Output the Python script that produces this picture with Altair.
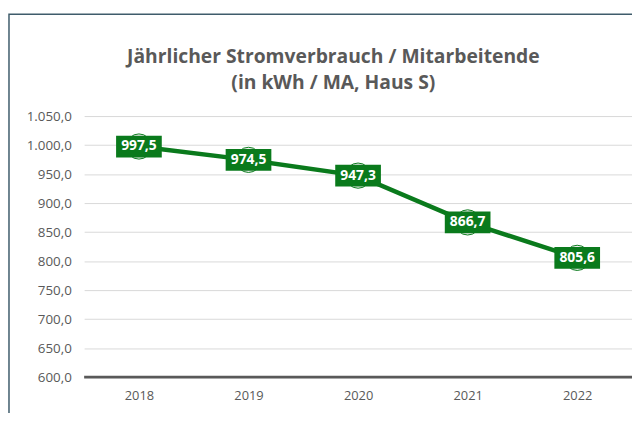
import altair as alt
import pandas as pd

years = ["2018", "2019", "2020", "2021", "2022"]
values = [997.5, 974.5, 947.3, 866.7, 805.6]
y_ticks = [600, 650, 700, 750, 800, 850, 900, 950, 1000, 1050]
title_lines = ["Jährlicher Stromverbrauch / Mitarbeitende", "(in kWh / MA, Haus S)"]

GREEN = "#0a7a1c"
GRAY = "#595959"
FONT = "Open Sans"

df = pd.DataFrame({"year": years, "value": values})

de_expr = "replace(replace(replace(format(datum.value, ',.1f'), ',', '#'), '.', ','), '#', '.')"

x = alt.X("year:O", title=None,
          axis=alt.Axis(labelAngle=0, ticks=False, domain=False, labelPadding=13,
                        labelFontSize=13, labelColor=GRAY, labelFont=FONT, grid=False))
y = alt.Y("value:Q", title=None,
          scale=alt.Scale(domain=[600, 1050], nice=False, zero=False),
          axis=alt.Axis(values=y_ticks, labelExpr=de_expr, ticks=False, domain=False,
                        labelPadding=13, labelFontSize=13.5, labelColor=GRAY, labelFont=FONT,
                        gridColor="#d9d9d9", gridWidth=1, labelOverlap=False))

base = alt.Chart(df).encode(x=x, y=y)

line = base.mark_line(color=GREEN, strokeWidth=4.5)
circles = base.mark_point(shape="circle", size=650, filled=True, fill="#eeeeee",
                          stroke=GREEN, strokeWidth=1, opacity=1)
boxes = base.mark_point(shape="M-2.1,-1H2.1V1H-2.1Z", size=484, filled=True,
                        fill=GREEN, strokeWidth=0, opacity=1)
labels = base.transform_calculate(
    lab="replace(format(datum.value, '.1f'), '.', ',')"
).mark_text(color="white", fontWeight="bold", fontSize=14, font=FONT,
            baseline="middle", align="center").encode(text="lab:N")

baseline = alt.Chart(pd.DataFrame({"value": [600]})).mark_rule(
    color=GRAY, strokeWidth=3
).encode(y=y, x=alt.value(0), x2=alt.value(554))

border = alt.Chart(pd.DataFrame({"a": [0]})).mark_rect(
    fill=None, stroke="#3f5c6b", strokeWidth=1.5
).encode(x=alt.value(-76), x2=alt.value(620), y=alt.value(-103), y2=alt.value(330))

title1 = alt.Chart(pd.DataFrame({"t": [title_lines[0]]})).mark_text(
    fontSize=19.5, fontWeight="bold", color=GRAY, font=FONT, align="center", baseline="middle"
).encode(text="t:N", x=alt.value(252), y=alt.value(-60))
title2 = alt.Chart(pd.DataFrame({"t": [title_lines[1]]})).mark_text(
    fontSize=19.5, fontWeight="bold", color=GRAY, font=FONT, align="center", baseline="middle"
).encode(text="t:N", x=alt.value(252), y=alt.value(-33))

chart = alt.layer(line, circles, boxes, labels, baseline, border, title1, title2).properties(
    width=554, height=264,
    autosize=alt.AutoSizeParams(type="none"),
    padding={"left": 77, "top": 107, "right": 0, "bottom": 34},
).configure_view(stroke=None)

chart.save("out.html", embed_options={"renderer": "svg", "actions": False})
